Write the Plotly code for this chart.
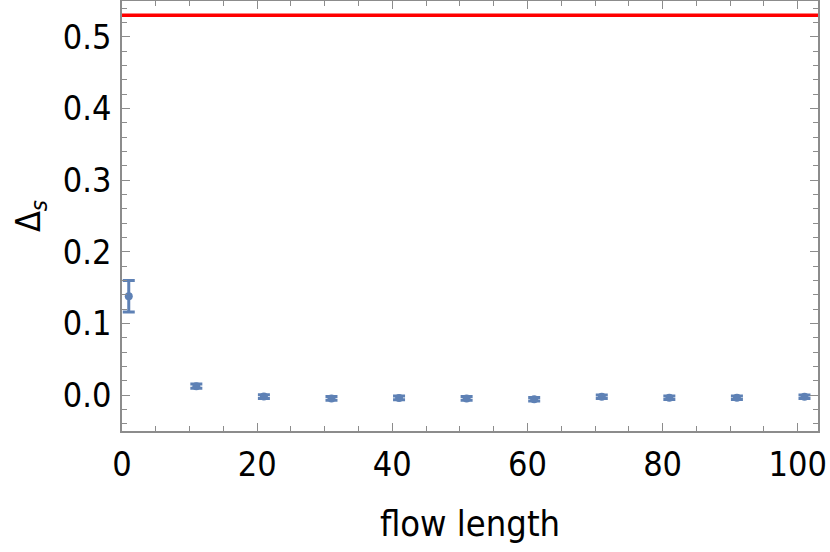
import plotly.graph_objects as go

# flow length values and measured Delta_s with errors
flow_length = [1, 11, 21, 31, 41, 51, 61, 71, 81, 91, 101]
delta_s = [0.138, 0.0125, -0.002, -0.0045, -0.0038, -0.0045, -0.0058, -0.0023, -0.0037, -0.0037, -0.0023]
delta_err = [0.022, 0.003, 0.0025, 0.0025, 0.0025, 0.0025, 0.0025, 0.0025, 0.0025, 0.0025, 0.0025]
reference_level = 0.53

blue = "#5E81B5"
frame_col = "#8c8c8c"
font_family = "DejaVu Sans Condensed, DejaVu Sans, sans-serif"

fig = go.Figure()
fig.add_trace(go.Scatter(
    x=flow_length,
    y=delta_s,
    mode="markers",
    marker=dict(color=blue, size=8),
    error_y=dict(type="data", array=delta_err, color=blue, thickness=3, width=6),
    showlegend=False,
))

# red reference line
fig.add_hline(y=reference_level, line=dict(color="#ff0000", width=3.5))

axis_common = dict(
    showline=True, linecolor=frame_col, linewidth=1.5, mirror="allticks",
    ticks="inside", ticklen=8, tickwidth=1.2, tickcolor=frame_col,
    showgrid=False, zeroline=False, automargin=False,
    tickfont=dict(family=font_family, size=34, color="black"),
)

fig.update_xaxes(
    range=[0, 103], tickvals=[0, 20, 40, 60, 80, 100],
    minor=dict(dtick=5, ticks="inside", ticklen=5, tickcolor=frame_col, tickwidth=1.2),
    title=dict(text="flow length", font=dict(family=font_family, size=36, color="black"), standoff=28),
    ticklabelstandoff=2,
    **axis_common,
)
fig.update_yaxes(
    range=[-0.05, 0.55], tickvals=[0, 0.1, 0.2, 0.3, 0.4, 0.5], tickformat=".1f",
    minor=dict(dtick=0.02, tick0=0, ticks="inside", ticklen=5, tickcolor=frame_col, tickwidth=1.2),
    title=dict(text="Δ<sub><i>s</i></sub>", font=dict(family=font_family, size=34, color="black"), standoff=12),
    ticklabelstandoff=2,
    **axis_common,
)

fig.update_layout(
    width=830, height=552,
    margin=dict(l=122, r=12, t=1, b=121),
    plot_bgcolor="white", paper_bgcolor="white",
)

# drop the default page margin so the figure sits at the window corner
fig.write_html("out.html", config={"displayModeBar": False},
               post_script="document.body.style.margin='0';")
